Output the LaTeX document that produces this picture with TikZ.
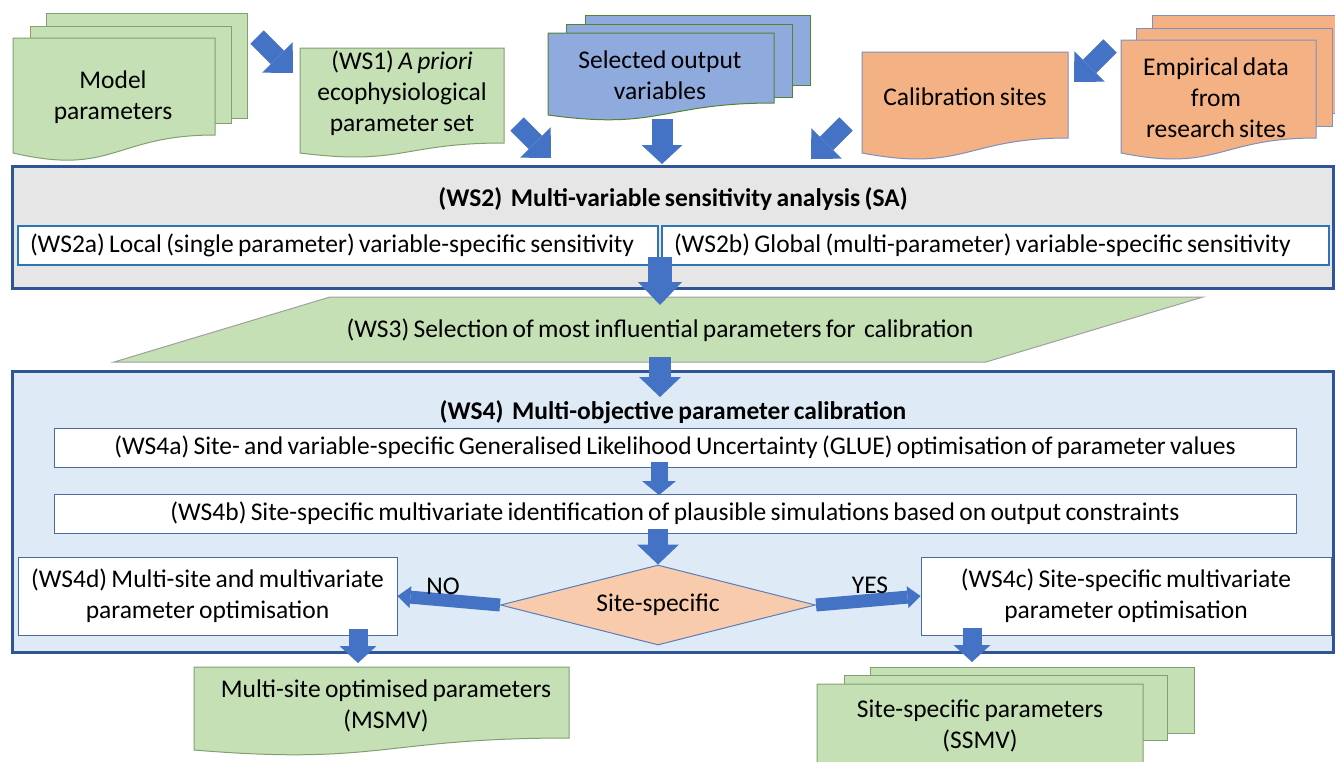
\documentclass[tikz,border=0pt]{standalone}
\usepackage{fontspec}
\setmainfont{Carlito}[WordSpace=0.75]
\usetikzlibrary{arrows.meta,shapes.geometric}
\definecolor{gfill}{HTML}{C5E0B4}
\definecolor{gline}{HTML}{82A06E}
\definecolor{bfill}{HTML}{8FAADC}
\definecolor{bline}{HTML}{548235}
\definecolor{ofill}{HTML}{F4B183}
\definecolor{oline}{HTML}{7F8FBF}
\definecolor{arrowblue}{HTML}{4472C4}
\definecolor{frame}{HTML}{2F5597}
\definecolor{grayfill}{HTML}{E7E6E6}
\definecolor{lightblue}{HTML}{DEEBF7}
\definecolor{subline}{HTML}{2E75B6}
\definecolor{boxline}{HTML}{4A6AA0}
\definecolor{dfill}{HTML}{F8CBAD}
\definecolor{dline}{HTML}{5B7DB8}
\definecolor{pline}{HTML}{A0A0A0}
\newcommand\docshape[6]{\path[#1] (#2,#3) -- (#4,#3) -- (#4,#5) .. controls ({(#2+#4)/2},#5) and ({(#2+#4)/2},{#6+1.3*(#6-#5)}) .. (#2,#6) -- cycle;}
\newcommand\fsz{\fontsize{25.5}{31}\selectfont}
\begin{document}
\begin{tikzpicture}[x=1pt,y=-1pt,
  txt/.style={font=\fsz, align=center, inner sep=0pt, text=black},
  ttl/.style={font=\fsz\bfseries, inner sep=0pt, text=black},
  gdoc/.style={fill=gfill, draw=gline, line width=1pt},
  bdoc/.style={fill=bfill, draw=bline, line width=1pt},
  odoc/.style={fill=ofill, draw=oline, line width=1pt},
  frm/.style={draw=frame, line width=3pt},
  sub/.style={draw=subline, line width=2pt, fill=white, minimum height=39pt, inner xsep=12pt, inner ysep=0pt, font=\fsz, text=black},
  wbox/.style={draw=boxline, line width=1pt, fill=white, inner sep=0pt, align=center, font=\fsz, text=black},
  blk/.style n args={3}{draw=arrowblue, line width=#1, -{Triangle[length=#3, width=#2, line width=0pt]}},
]
\useasboundingbox (0,0) rectangle (1335,761);
% --- top documents
\path[gdoc] (46,13) rectangle (247,118);
\path[gdoc] (30,26) rectangle (231,123);
\docshape{gdoc}{13}{38}{215}{135}{153}
\docshape{gdoc}{300}{48}{504}{143}{153}
\path[bdoc] (585,15) rectangle (810,85);
\path[bdoc] (566,24) rectangle (792,97);
\docshape{bdoc}{548}{33}{774}{103}{115}
\docshape{odoc}{862}{52}{1068}{138}{153}
\path[odoc] (1152,15) rectangle (1350,113);
\path[odoc] (1136,28) rectangle (1332,126);
\docshape{odoc}{1121}{40}{1316}{138}{153}
% --- WS2 frame
\path[frm, fill=grayfill] (12,166.5) rectangle (1333,288);
\node[sub] (ws2a) at (338,245.5) {\makebox[616pt][l]{(WS2a) Local (single parameter) variable-specific sensitivity}};
\node[sub] (ws2b) at (995.5,245.5) {\makebox[643pt][l]{(WS2b) Global (multi-parameter) variable-specific sensitivity}};
% --- WS3
\path[fill=gfill, draw=pline, line width=1pt] (330,297) -- (1203,297) -- (986,362) -- (114,362) -- cycle;
% --- WS4 frame
\path[frm, fill=lightblue] (12,371) rectangle (1333,652);
\node[wbox, minimum width=1242pt, minimum height=39pt] (ws4a) at (675,447.5) {(WS4a) Site- and variable-specific Generalised Likelihood Uncertainty (GLUE) optimisation of parameter values};
\node[wbox, minimum width=1242pt, minimum height=39pt] (ws4b) at (675,513.5) {(WS4b) Site-specific multivariate identification of plausible simulations based on output constraints};
\node[wbox, minimum width=379pt, minimum height=78pt] (ws4d) at (207.5,596) {(WS4d) Multi-site and multivariate\\parameter optimisation};
\node[wbox, minimum width=410pt, minimum height=78pt] (ws4c) at (1126,596) {(WS4c) Site-specific multivariate\\parameter optimisation};
\node[diamond, aspect=3.94, draw=dline, line width=1pt, fill=dfill, minimum width=315pt, minimum height=80pt, inner sep=0pt, font=\fsz, text=black] (dia) at (658,605) {Site-specific};
% --- bottom documents
\docshape{gdoc}{194}{667}{569}{738}{750}
\path[gdoc] (870,667) rectangle (1194,733);
\path[gdoc] (844,675) rectangle (1167,740);
\docshape{gdoc}{817}{684}{1143}{770}{785}
% --- arrow end points
\coordinate (a1s) at (257,37);  \coordinate (a1e) at (293,73);
\coordinate (a2s) at (517,124); \coordinate (a2e) at (551,158);
\coordinate (a3s) at (846,124); \coordinate (a3e) at (811,159);
\coordinate (a4s) at (1110,46); \coordinate (a4e) at (1074,82);
\coordinate (a5s) at (662,119); \coordinate (a5e) at (662,164);
\coordinate (a6s) at (660,257); \coordinate (a6e) at (660,305);
\coordinate (a7s) at (660,357); \coordinate (a7e) at (660,397);
\coordinate (a8s) at (659,462); \coordinate (a8e) at (659,495);
\coordinate (a9s) at (658,529);
\coordinate (a12s) at (358,629); \coordinate (a12e) at (358,663);
\coordinate (a13s) at (972,628); \coordinate (a13e) at (972,662);
% --- arrows
\draw[blk={19pt}{43pt}{22pt}] (a1s) -- (a1e);
\draw[blk={19pt}{43pt}{22pt}] (a2s) -- (a2e);
\draw[blk={19pt}{43pt}{22pt}] (a3s) -- (a3e);
\draw[blk={19pt}{43pt}{22pt}] (a4s) -- (a4e);
\draw[blk={21pt}{41pt}{19pt}] (a5s) -- (a5e);
\draw[blk={24pt}{44pt}{23pt}] (a6s) -- (a6e);
\draw[blk={22pt}{42pt}{20pt}] (a7s) -- (a7e);
\draw[blk={17pt}{34pt}{14pt}] (a8s) -- (a8e);
\draw[blk={20pt}{42pt}{20pt}] (a9s) -- (dia.north);
\draw[blk={13pt}{22pt}{13pt}] (dia.west) -- (ws4d.east);
\draw[blk={13pt}{22pt}{13pt}] (dia.east) -- (ws4c.west);
\draw[blk={19pt}{37pt}{17pt}] (a12s) -- (a12e);
\draw[blk={19pt}{37pt}{17pt}] (a13s) -- (a13e);
% --- texts
\node[txt] (mp) at (113,97.5) {Model\\parameters};
\node[txt] (ws1) at (402,93) {(WS1) \textit{A priori}\\ecophysiological\\parameter set};
\node[txt] (sov) at (660,75) {Selected output\\variables};
\node[txt] (cal) at (965,97) {Calibration sites};
\node[txt] (emp) at (1216,98) {Empirical data\\from\\research sites};
\node[ttl] (ws2t) at (673,199) {(WS2)\ \ Multi-variable sensitivity analysis (SA)};
\node[txt] (ws3) at (660,330) {(WS3)\ Selection of most influential parameters for\ \ calibration};
\node[ttl] (ws4t) at (673,412) {(WS4)\ \ Multi-objective parameter calibration};
\node[txt] (no) at (443,586) {NO};
\node[txt] (yes) at (870,585) {YES};
\node[txt] (msmv) at (386,705.5) {Multi-site optimised parameters\\(MSMV)};
\node[txt] (ssmv) at (980,726) {Site-specific parameters\\(SSMV)};
\end{tikzpicture}
\end{document}
